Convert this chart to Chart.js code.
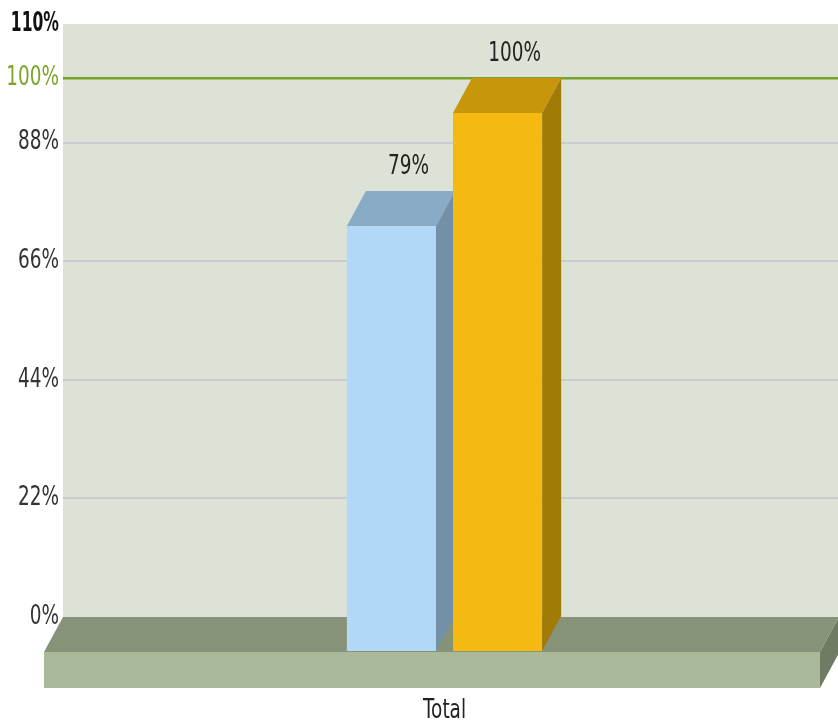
<!DOCTYPE html>
<html>
<head>
<meta charset="utf-8">
<script src="https://cdn.jsdelivr.net/npm/chart.js@4/dist/chart.umd.min.js"></script>
<style>
    html, body { margin: 0; padding: 0; background: #fff; overflow: hidden; }
    #wrap { width: 838px; height: 724px; overflow: hidden; }
</style>
</head>
<body>
<div id="wrap"><canvas id="chart" width="866" height="724"></canvas></div>
<script>
// dados do gráfico
const categories = ['Total'];
const seriesA = [79];
const seriesB = [100];
const yTicks = [0, 22, 44, 66, 88, 100, 110];
const targetLine = 100;

// cores das faces (frente, topo, lateral)
const blueFaces = { front: '#b1d8f6', top: '#8aabc6', side: '#7290a8' };
const yellowFaces = { front: '#f5ba12', top: '#c8960b', side: '#a07b07' };

const FONT = "'DejaVu Sans', sans-serif";
const DX = 19, DY = 35;   // profundidade 3D
const FLOOR_H = 36;       // espessura do piso
const FLOOR_RIGHT = 839;  // fim do piso no plano de fundo

// texto estreito e alto, como no original
function narrowText(ctx, text, x, y, align, sx) {
    ctx.save();
    ctx.translate(x, y);
    ctx.scale(sx, 1);
    ctx.textAlign = align;
    ctx.textBaseline = 'middle';
    ctx.fillText(text, 0, 0);
    ctx.restore();
}

const threeD = {
    id: 'threeD',
    beforeDraw(chart) {
        const { ctx, chartArea: a } = chart;
        ctx.save();
        ctx.fillStyle = '#dde2d6';
        ctx.fillRect(a.left, a.top, chart.width - a.left, a.bottom - a.top);
        ctx.restore();
    },
    beforeDatasetsDraw(chart) {
        const { ctx, chartArea: a } = chart;
        const l = a.left, r = FLOOR_RIGHT, y = a.bottom;
        ctx.save();
        // topo do piso
        ctx.fillStyle = '#879378';
        ctx.beginPath();
        ctx.moveTo(l, y); ctx.lineTo(r, y); ctx.lineTo(r - DX, y + DY); ctx.lineTo(l - DX, y + DY);
        ctx.closePath(); ctx.fill();
        // frente do piso
        ctx.fillStyle = '#abb99b';
        ctx.fillRect(l - DX, y + DY, r - l, FLOOR_H);
        // lateral do piso
        ctx.fillStyle = '#6f7b63';
        ctx.beginPath();
        ctx.moveTo(r - DX, y + DY); ctx.lineTo(r, y); ctx.lineTo(r, y + FLOOR_H); ctx.lineTo(r - DX, y + DY + FLOOR_H);
        ctx.closePath(); ctx.fill();

        // barras em 3D a partir dos elementos calculados pelo Chart.js
        chart.data.datasets.forEach((ds, i) => {
            const faces = ds.faces;
            chart.getDatasetMeta(i).data.forEach(el => {
                const fl = el.x - el.width / 2 - DX;
                const fr = el.x + el.width / 2 - DX;
                const ft = el.y + DY;
                const fb = el.base + DY;
                ctx.fillStyle = faces.front;
                ctx.fillRect(fl, ft, fr - fl, fb - ft);
                ctx.fillStyle = faces.top;
                ctx.beginPath();
                ctx.moveTo(fl, ft); ctx.lineTo(fl + DX, ft - DY); ctx.lineTo(fr + DX, ft - DY); ctx.lineTo(fr, ft);
                ctx.closePath(); ctx.fill();
                ctx.fillStyle = faces.side;
                ctx.beginPath();
                ctx.moveTo(fr, ft); ctx.lineTo(fr + DX, ft - DY); ctx.lineTo(fr + DX, el.base); ctx.lineTo(fr, fb);
                ctx.closePath(); ctx.fill();
            });
        });
        ctx.restore();
    },
    afterDatasetsDraw(chart) {
        const { ctx, scales } = chart;
        ctx.save();
        ctx.font = '26px ' + FONT;
        ctx.fillStyle = '#222';
        // rótulos de valor
        chart.data.datasets.forEach((ds, i) => {
            chart.getDatasetMeta(i).data.forEach((el, j) => {
                narrowText(ctx, ds.data[j] + '%', el.x - 2, el.y - 24, 'center', 0.71);
            });
        });
        // eixo y
        const ys = scales.y;
        ys.ticks.forEach(t => {
            const py = ys.getPixelForValue(t.value);
            if (t.value === 110) {
                ctx.font = 'bold 26px ' + FONT;
                ctx.fillStyle = '#111';
                narrowText(ctx, t.value + '%', ys.right - 4, py, 'right', 0.6);
            } else {
                ctx.font = '26px ' + FONT;
                ctx.fillStyle = t.value === targetLine ? '#7aa528' : '#333';
                narrowText(ctx, t.value + '%', ys.right - 4, py, 'right', 0.71);
            }
        });
        // eixo x
        const xs = scales.x;
        ctx.font = '26px ' + FONT;
        ctx.fillStyle = '#222';
        categories.forEach((c, i) => {
            narrowText(ctx, c, xs.getPixelForValue(i) - DX, xs.top + 94, 'center', 0.71);
        });
        ctx.restore();
    }
};

new Chart(document.getElementById('chart'), {
    type: 'bar',
    data: {
        labels: categories,
        datasets: [
            { label: 'A', data: seriesA, faces: blueFaces, backgroundColor: 'rgba(0,0,0,0)' },
            { label: 'B', data: seriesB, faces: yellowFaces, backgroundColor: 'rgba(0,0,0,0)' }
        ]
    },
    options: {
        responsive: false,
        animation: false,
        layout: { padding: { top: 24, right: 2, left: 0, bottom: 0 } },
        categoryPercentage: 0.265,
        barPercentage: 0.84,
        plugins: { legend: { display: false }, tooltip: { enabled: false } },
        scales: {
            x: {
                grid: { display: false, drawTicks: false },
                border: { display: false },
                ticks: { display: false },
                afterFit: s => { s.height = 107; }
            },
            y: {
                min: 0,
                max: 110,
                afterBuildTicks: s => { s.ticks = yTicks.map(v => ({ value: v })); },
                border: { display: false },
                grid: {
                    drawTicks: false,
                    lineWidth: c => c.tick.value === targetLine ? 2.5 : 2,
                    color: c => {
                        const v = c.tick.value;
                        if (v === targetLine) return '#78a229';
                        if (v === 0 || v === 110) return 'rgba(0,0,0,0)';
                        return '#cbccd2';
                    }
                },
                ticks: { display: false },
                afterFit: s => { s.width = 63; }
            }
        }
    },
    plugins: [threeD]
});
</script>
</body>
</html>
